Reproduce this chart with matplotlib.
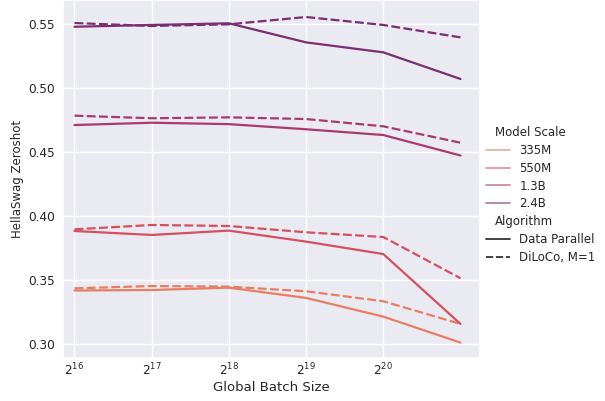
import numpy as np
import pandas as pd
import matplotlib.pyplot as plt
import seaborn as sns
from matplotlib.transforms import Affine2D

batch_sizes = [2**16, 2**17, 2**18, 2**19, 2**20, 2**21]
model_scales = ['335M', '550M', '1.3B', '2.4B']

# hellaswag zeroshot accuracy per model scale
data_parallel = {
    '335M': [0.342, 0.3424, 0.3442, 0.3362, 0.3216, 0.3013],
    '550M': [0.3885, 0.3854, 0.3888, 0.3802, 0.3705, 0.3159],
    '1.3B': [0.4713, 0.4731, 0.472, 0.468, 0.4635, 0.4475],
    '2.4B': [0.5481, 0.5495, 0.5508, 0.5359, 0.5281, 0.5073],
}
diloco = {
    '335M': [0.3437, 0.3455, 0.345, 0.3414, 0.3336, 0.3159],
    '550M': [0.3898, 0.3932, 0.3924, 0.3875, 0.3838, 0.3516],
    '1.3B': [0.4786, 0.4766, 0.4773, 0.476, 0.4703, 0.4575],
    '2.4B': [0.551, 0.5487, 0.55, 0.5557, 0.5495, 0.5398],
}

rows = []
for algo, results in [('Data Parallel', data_parallel), ('DiLoCo, M=1', diloco)]:
    for scale in model_scales:
        for bs, acc in zip(batch_sizes, results[scale]):
            rows.append({'Global Batch Size': bs, 'HellaSwag Zeroshot': acc,
                         'Model Scale': scale, 'Algorithm': algo})
df = pd.DataFrame(rows)

sns.set_theme(style='darkgrid')
plt.rcParams['xtick.labelsize'] = 8.75
plt.rcParams['ytick.labelsize'] = 8.75
plt.rcParams['axes.labelsize'] = 9.5
plt.rcParams['legend.fontsize'] = 8.5

fig, ax = plt.subplots(figsize=(6.05, 4.01), dpi=100)
sns.lineplot(data=df, x='Global Batch Size', y='HellaSwag Zeroshot',
             hue='Model Scale', style='Algorithm',
             palette=sns.color_palette('flare', 4), linewidth=1.6, ax=ax)
ax.set_xscale('log', base=2)
ax.set_xticks(batch_sizes[:-1])
ax.set_xlim(2**15.85, 2**21.25)
ax.set_ylim(0.2895, 0.569)
ax.set_yticks([0.30, 0.35, 0.40, 0.45, 0.50, 0.55])
ax.minorticks_off()
ax.tick_params(axis='x', length=0, pad=3)
ax.tick_params(axis='y', length=0, pad=5.8)
ax.set_ylabel('HellaSwag Zeroshot', fontsize=8.5)
ax.yaxis.set_label_coords(-0.094, 0.5)
ax.xaxis.labelpad = 2

leg = ax.legend(loc='center left', bbox_to_anchor=(0.99, 0.455), frameon=False,
                labelspacing=0.41, handlelength=2.0, handletextpad=0.8)
for line in leg.get_lines():
    line.set_linewidth(1.3)
    if line.get_label() in model_scales:
        line.set_alpha(0.6)
# pull the group headings left, over the handle column
for text in leg.get_texts():
    if text.get_text() in ('Model Scale', 'Algorithm'):
        text.set_transform(text.get_transform() + Affine2D().translate(-24, 0))

fig.subplots_adjust(left=0.104, right=0.793, bottom=0.108, top=1.0)
fig.savefig('out.png')
